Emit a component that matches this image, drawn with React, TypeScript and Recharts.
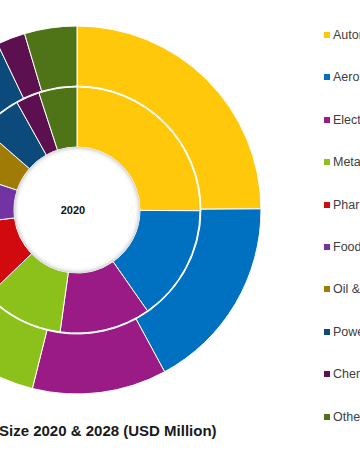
import { Cell, Legend, Pie, PieChart } from "recharts";

const segments = [
  "Automotive",
  "Aerospace & Defense",
  "Electronics & Semiconductor",
  "Metal Fabrication",
  "Pharmaceuticals",
  "Food & Beverage",
  "Oil & Gas",
  "Power",
  "Chemicals",
  "Others",
];
const colors = [
  "#FFC80A",
  "#0070C0",
  "#9B1B86",
  "#8CC11C",
  "#D00A0E",
  "#7233A3",
  "#A07C06",
  "#0C4A7C",
  "#5C1050",
  "#4E7417",
];
// market share per year (inner ring = 2020, outer ring = 2028)
const values2020 = [25.1, 15.2, 11.9, 10.6, 10.2, 7.1, 6.3, 5.5, 3.1, 5.0];
const values2028 = [24.9, 17.2, 11.8, 11.0, 8.5, 7.0, 5.5, 7.0, 2.5, 4.6];
const centerLabel = "2020";
const title = "Size 2020 & 2028 (USD Million)";

const inner = segments.map((name, i) => ({ name, value: values2020[i] }));
const outer = segments.map((name, i) => ({ name, value: values2028[i] }));

const CX = 77;
const CY = 210;

function LegendBox() {
  return (
    <div style={{ position: "relative", width: 120, height: 450 }}>
      {segments.map((name, i) => (
        <div
          key={name}
          style={{
            position: "absolute",
            left: 0,
            top: 35 + i * 42.4 - 8,
            height: 16,
            display: "flex",
            alignItems: "center",
            whiteSpace: "nowrap",
            fontSize: 12.5,
            color: "#404040",
            fontFamily: "'Liberation Sans', Arial, sans-serif",
          }}
        >
          <span
            style={{
              display: "inline-block",
              width: 6,
              height: 6,
              background: colors[i],
              marginRight: 3,
            }}
          />
          {name}
        </div>
      ))}
    </div>
  );
}

export default function App() {
  return (
    <div
      style={{
        position: "absolute",
        left: 0,
        top: 0,
        width: 360,
        height: 450,
        overflow: "hidden",
        background: "#fff",
      }}
    >
      <PieChart width={480} height={450} margin={{ top: 0, right: 0, bottom: 0, left: 0 }}>
        <Pie
          data={inner}
          dataKey="value"
          cx={CX}
          cy={CY}
          innerRadius={63}
          outerRadius={123}
          startAngle={90}
          endAngle={-270}
          stroke="#fff"
          strokeWidth={1}
          isAnimationActive={false}
        >
          {inner.map((d, i) => (
            <Cell key={d.name} fill={colors[i]} />
          ))}
        </Pie>
        <Pie
          data={outer}
          dataKey="value"
          cx={CX}
          cy={CY}
          innerRadius={124}
          outerRadius={184}
          startAngle={90}
          endAngle={-270}
          stroke="#fff"
          strokeWidth={1}
          isAnimationActive={false}
        >
          {outer.map((d, i) => (
            <Cell key={d.name} fill={colors[i]} />
          ))}
        </Pie>
        <Legend
          layout="vertical"
          content={() => <LegendBox />}
          wrapperStyle={{ position: "absolute", left: 324, top: 0, width: 120 }}
        />
      </PieChart>
      {/* hole with soft inner shadow */}
      <div
        style={{
          position: "absolute",
          left: CX - 63,
          top: CY - 63,
          width: 126,
          height: 126,
          borderRadius: "50%",
          background: "#fff",
          boxShadow: "inset 0 0 5px rgba(0,0,0,0.35)",
          display: "flex",
          alignItems: "center",
          justifyContent: "center",
          fontFamily: "'Liberation Sans', Arial, sans-serif",
          fontWeight: "bold",
          fontSize: 11,
          color: "#111",
        }}
      >
        <span style={{ marginLeft: -8 }}>{centerLabel}</span>
      </div>
      <div
        style={{
          position: "absolute",
          left: -1,
          top: 422,
          whiteSpace: "nowrap",
          fontFamily: "'Liberation Sans', Arial, sans-serif",
          fontWeight: "bold",
          fontSize: 15,
          color: "#1a1a1a",
        }}
      >
        {title}
      </div>
    </div>
  );
}
